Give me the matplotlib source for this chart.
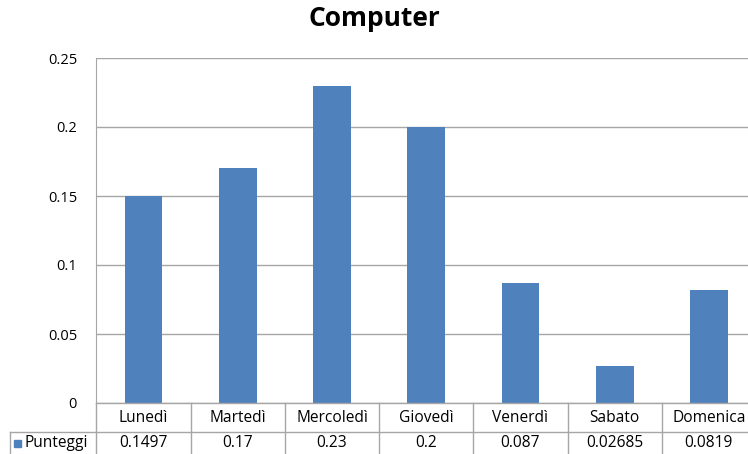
import matplotlib.pyplot as plt

giorni = ['Lunedì', 'Martedì', 'Mercoledì', 'Giovedì', 'Venerdì', 'Sabato', 'Domenica']
punteggi = [0.1497, 0.17, 0.23, 0.2, 0.087, 0.02685, 0.0819]
etichette = ['0.1497', '0.17', '0.23', '0.2', '0.087', '0.02685', '0.0819']
y_ticks = [0, 0.05, 0.1, 0.15, 0.2, 0.25]

plt.rcParams['font.family'] = ['Open Sans', 'DejaVu Sans']
blu = '#4F81BD'
grigio = '#A6A6A6'

W, H = 748, 454
left, right = 96.5, 756  # plot area runs a little past the right edge
fig = plt.figure(figsize=(W / 100, H / 100), dpi=100)
ax = fig.add_axes([left / W, 1 - 403 / H, (right - left) / W, (403 - 58) / H])

x = range(len(giorni))
ax.bar(x, punteggi, width=0.4, color=blu, zorder=3)
ax.set_xlim(-0.5, len(giorni) - 0.5)
ax.set_ylim(0, 0.25)
ax.set_yticks(y_ticks)
ax.set_yticklabels(['0', '0.05', '0.1', '0.15', '0.2', '0.25'], fontsize=10.5)
ax.tick_params(axis='y', length=0, pad=14)
ax.set_xticks([])
ax.grid(axis='y', color=grigio, linewidth=1, zorder=0)
for s in ['top', 'right', 'bottom']:
    ax.spines[s].set_visible(False)
ax.spines['left'].set_color(grigio)

fig.suptitle('Computer', fontsize=19, fontweight='bold', y=0.99)

# data table under the axis (figure pixel coordinates)
def px(xp, yp):
    return xp / W, 1 - yp / H

def linea(x0, y0, x1, y1):
    a, b = px(x0, y0)
    c, d = px(x1, y1)
    fig.add_artist(plt.Line2D([a, c], [b, d], color=grigio, linewidth=1))

col = (right - left) / len(giorni)
linea(left, 403, right, 403)
linea(10, 432, right, 432)
linea(left, 403, left, 454)
linea(10, 432, 10, 454)
for i in range(1, len(giorni)):
    linea(left + i * col, 403, left + i * col, 454)

for i, (g, e) in enumerate(zip(giorni, etichette)):
    cx = left + (i + 0.5) * col
    fig.text(*px(cx, 418), g, ha='center', va='center', fontsize=11.2)
    fig.text(*px(cx, 443), e, ha='center', va='center', fontsize=11.2)

fig.add_artist(plt.Rectangle(px(14, 447), 7 / W, 7 / H, color=blu))
fig.text(*px(25, 443), 'Punteggi', ha='left', va='center', fontsize=11.2)

fig.savefig('out.png', dpi=100)
